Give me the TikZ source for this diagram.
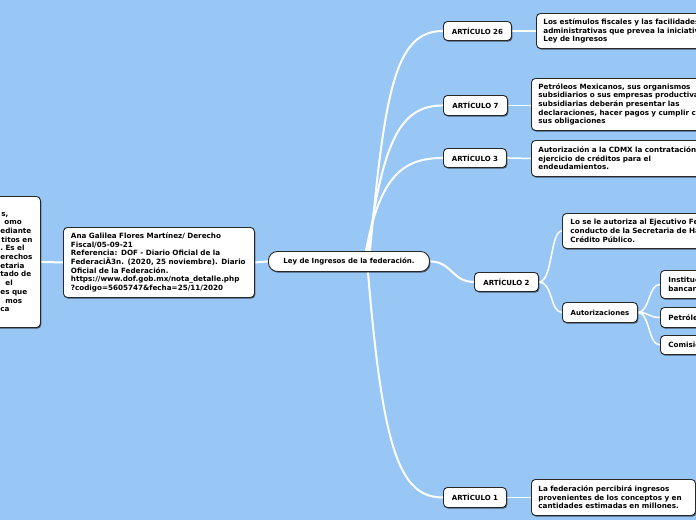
\documentclass[tikz,border=0pt]{standalone}
\usepackage{fontspec}
\setmainfont{DejaVu Sans}
\usetikzlibrary{shadows,calc}
\pgfdeclarelayer{back}
\pgfsetlayers{back,main}
\definecolor{bgblue}{RGB}{152,199,245}
\definecolor{bd}{RGB}{40,40,40}
\tikzset{
 box/.style={draw=bd, fill=white, line width=0.9pt, rounded corners=4pt,
   drop shadow={shadow xshift=0.9pt, shadow yshift=-1.2pt, fill=black, opacity=0.55},
   font=\fontsize{7}{8.7}\selectfont\bfseries, inner ysep=0pt, anchor=north west},
 txtbox/.style={box, align=left, inner xsep=7pt, font=\fontsize{7.2}{8.7}\selectfont\bfseries},
 artbox/.style={box, align=center, inner xsep=0pt},
 conn/.style={draw=white, line width=1.5pt, line cap=round},
 mainconn/.style={conn, line width=2pt},
}
\begin{document}
\begin{tikzpicture}[x=1pt,y=-1pt]
\useasboundingbox (0,0) rectangle (696,520);
\clip (0,0) rectangle (696,520);
% nodes
\node[txtbox, minimum width=160pt, text width=146pt, minimum height=131pt] (L) at (-120,196)
 {\hspace*{114pt}s,\\
  \hspace*{117pt}omo\\
  \hspace*{113pt}ediante\\
  \hspace*{114pt}titos~en\\
  \hspace*{113pt}.~Es~el\\
  \hspace*{113pt}erechos\\
  \hspace*{113pt}etaria\\
  \hspace*{113pt}tado~de\\
  \hspace*{118pt}el\\
  \hspace*{113pt}es~que\\
  \hspace*{118pt}mos\\
  \hspace*{113pt}ca};
\node[txtbox, inner xsep=7.5pt, minimum width=191pt, text width=176pt, minimum height=70pt] (A) at (63,227)
 {\mbox{Ana Galilea Flores Martínez/ Derecho}\\
  Fiscal/05-09-21\\
  \mbox{Referencia: DOF - Diario Oficial de la}\\
  \mbox{FederaciÃ3n. (2020, 25 noviembre). Diario}\\
  Oficial de la Federación.\\
  https://www.dof.gob.mx/nota\_detalle.php\\
  ?codigo=5605747\&fecha=25/11/2020};
\node[artbox, rounded corners=9pt, minimum width=161pt, minimum height=20pt] (C) at (268,251)
 {Ley de Ingresos de la federación.};
\node[artbox, minimum width=68pt, minimum height=19pt] (A26) at (443,21) {ARTÍCULO 26};
\node[txtbox, minimum width=200pt, text width=186pt, minimum height=35pt] (D26) at (536,13)
 {Los estímulos fiscales y las facilidades\\
  administrativas que prevea la iniciativa\\
  Ley de Ingresos};
\node[artbox, minimum width=64pt, minimum height=20pt] (A7) at (443,95) {ARTÍCULO 7};
\node[txtbox, minimum width=200pt, text width=186pt, minimum height=52pt] (D7) at (531,78)
 {Petróleos Mexicanos, sus organismos\\
  subsidiarios o sus empresas productivas\\
  subsidiarias deberán presentar las\\
  declaraciones, hacer pagos y cumplir con\\
  sus obligaciones};
\node[artbox, minimum width=63pt, minimum height=19pt] (A3) at (443,148) {ARTÍCULO 3};
\node[txtbox, minimum width=200pt, text width=186pt, minimum height=36pt] (D3) at (531,140)
 {Autorización a la CDMX la contratación y\\
  ejercicio de créditos para el\\
  endeudamientos.};
\node[artbox, minimum width=64pt, minimum height=19pt] (A2) at (474,272) {ARTÍCULO 2};
\node[txtbox, inner xsep=8pt, minimum width=200pt, text width=184pt, minimum height=35pt] (D2) at (562,213)
 {Lo se le autoriza al Ejecutivo Federal\\
  conducto de la Secretaria de Hacienda\\
  Crédito Público.};
\node[artbox, minimum width=75pt, minimum height=20pt] (Au) at (562,302) {Autorizaciones};
\node[txtbox, inner xsep=8pt, minimum width=100pt, text width=84pt, minimum height=28pt] (I) at (660,270)
 {Instituciones\\bancarias};
\node[txtbox, inner xsep=8pt, minimum width=100pt, text width=84pt, minimum height=20pt] (P) at (660,307)
 {Petróleos};
\node[txtbox, inner xsep=8pt, minimum width=100pt, text width=84pt, minimum height=19pt] (Co) at (660,335)
 {Comisión};
\node[artbox, minimum width=63pt, minimum height=20pt] (A1) at (443,487) {ARTÍCULO 1};
\node[txtbox, minimum width=164pt, text width=150pt, minimum height=36pt] (D1) at (531,479)
 {La federación percibirá ingresos\\
  provenientes de los conceptos y en\\
  cantidades estimadas en millones.};
% background and connectors
\begin{pgfonlayer}{back}
\fill[bgblue] (0,0) rectangle (696,520);
\draw[mainconn] (L.east) -- (A.west);
\draw[mainconn] (A.east) -- (C.west);
\draw[mainconn] ([xshift=21pt]C.north) .. controls +(15,-160) and +(-48,0) .. (A26.west);
\draw[mainconn] ([xshift=19pt]C.north) .. controls +(15,-110) and +(-43,0) .. (A7.west);
\draw[mainconn] ([xshift=17pt]C.north) .. controls +(14,-75) and +(-40,0) .. (A3.west);
\draw[mainconn] ([xshift=19pt]C.south) .. controls +(15,180) and +(-43,0) .. (A1.west);
\draw[mainconn] (C.east) .. controls +(22,0) and +(-22,0) .. (A2.west);
\draw[conn] (A26.east) -- (D26.west);
\draw[conn] (A7.east) -- (A7.east -| D7.west);
\draw[conn] (A3.east) -- (D3.west);
\draw[conn] (A1.east) -- (D1.west);
\draw[conn] (A2.east) .. controls +(14,0) and +(-12,0) .. (D2.west);
\draw[conn] (A2.east) .. controls +(14,0) and +(-12,0) .. (Au.west);
\draw[conn] (Au.east) .. controls +(12,0) and +(-12,0) .. (I.west);
\draw[conn] (Au.east) .. controls +(12,0) and +(-12,0) .. (P.west);
\draw[conn] (Au.east) .. controls +(12,0) and +(-12,0) .. (Co.west);
\end{pgfonlayer}
\end{tikzpicture}
\end{document}
